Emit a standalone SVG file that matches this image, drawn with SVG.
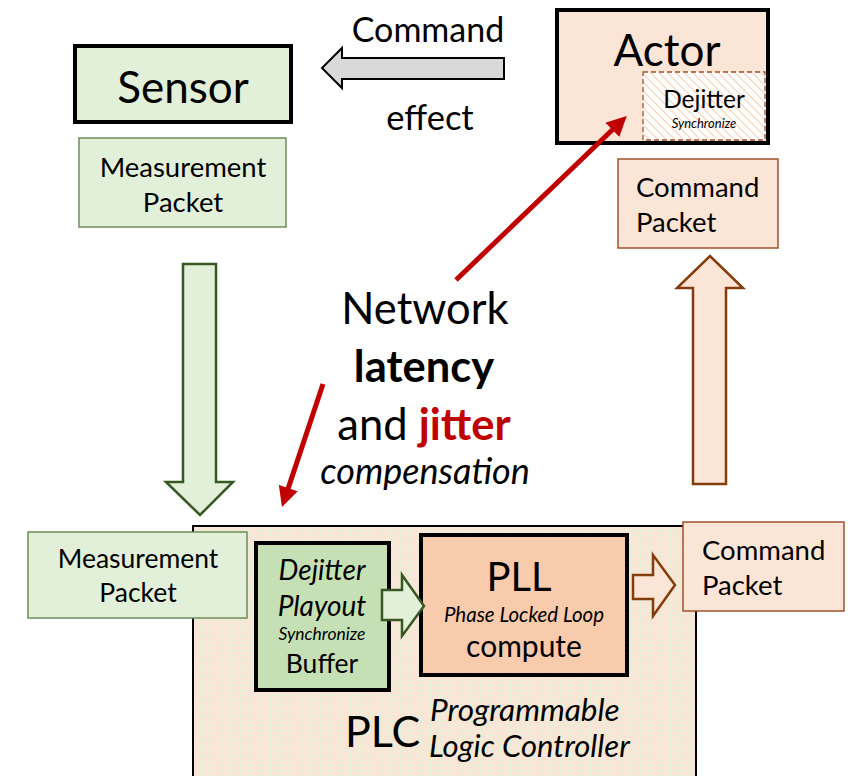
<svg xmlns="http://www.w3.org/2000/svg" width="854" height="776" viewBox="0 0 854 776">
<defs>
<style>
text{font-family:Lato,"Open Sans","Liberation Sans",sans-serif;fill:#000}
.c{text-anchor:middle}
.i{font-style:italic}
.b{font-weight:bold}
.g{fill:#E2F0D9}
.o{fill:#FBE5D6}
.gs{stroke:#6E8F58;stroke-width:1.5}
.os{stroke:#A0522D;stroke-width:1.5}
.thick{stroke:#000;stroke-width:4}
.red{stroke:#C00000;stroke-width:5;fill:none}
</style>
<pattern id="grid" width="5" height="5" patternUnits="userSpaceOnUse">
<rect width="5" height="5" fill="#FBE5D6"/>
<path d="M0 0.5H5M0.5 0V5" stroke="#E6EDD6" stroke-width="0.8"/>
</pattern>
<pattern id="hatch" width="6" height="6" patternUnits="userSpaceOnUse" patternTransform="rotate(-45)">
<rect width="6" height="6" fill="#fff"/>
<line x1="0" y1="0" x2="0" y2="6" stroke="#F4B183" stroke-width="1.3"/>
</pattern>
<marker id="ah" viewBox="0 0 10 10" refX="6" refY="5" markerWidth="4" markerHeight="4" orient="auto" markerUnits="strokeWidth">
<path d="M0 0L10 5L0 10z" fill="#C00000"/>
</marker>
</defs>

<g id="plc">
<rect x="193" y="526" width="503" height="260" fill="url(#grid)" stroke="#000" stroke-width="2"/>
<text x="345" y="747" font-size="43">PLC</text>
<text x="430" y="721" font-size="31.5" class="i">Programmable</text>
<text x="429" y="757" font-size="31" class="i">Logic Controller</text>
</g>

<g id="sensor">
<rect x="75" y="46" width="216" height="76" class="g thick"/>
<text x="183" y="103" font-size="44" class="c">Sensor</text>
</g>

<g id="measurement-top">
<rect x="79" y="138" width="207" height="89" class="g gs"/>
<text x="183" y="177" font-size="27.5" class="c">Measurement</text>
<text x="183" y="212" font-size="27.5" class="c">Packet</text>
</g>

<g id="actor">
<rect x="557" y="10" width="211" height="133" class="o thick"/>
<text x="667" y="66" font-size="44" class="c">Actor</text>
</g>

<g id="dejitter-actor">
<rect x="643" y="72" width="122" height="68" fill="url(#hatch)" stroke="#A0522D" stroke-width="1.3" stroke-dasharray="5 3"/>
<text x="704" y="108" font-size="24.5" class="c">Dejitter</text>
<text x="704" y="128" font-size="13" class="c i">Synchronize</text>
</g>

<g id="command-top">
<rect x="618" y="159" width="160" height="89" class="o os"/>
<text x="636" y="197" font-size="27.5">Command</text>
<text x="636" y="232" font-size="27.5">Packet</text>
</g>

<g id="measurement-bottom">
<rect x="28" y="532" width="219" height="86" class="g gs"/>
<text x="138" y="568" font-size="26.5" class="c">Measurement</text>
<text x="138" y="602" font-size="26.5" class="c">Packet</text>
</g>

<g id="buffer">
<rect x="256" y="543" width="133" height="147" fill="#C5E0B4" class="thick"/>
<text x="322" y="580" font-size="28" class="c i">Dejitter</text>
<text x="322" y="616" font-size="28" class="c i">Playout</text>
<text x="322" y="640" font-size="17.5" class="c i">Synchronize</text>
<text x="322" y="673" font-size="26.5" class="c">Buffer</text>
</g>

<g id="pll">
<rect x="421" y="535" width="206" height="140" fill="#F8CBAD" class="thick"/>
<text x="519" y="591" font-size="40" class="c">PLL</text>
<text x="524" y="622" font-size="20.5" class="c i">Phase Locked Loop</text>
<text x="524" y="657" font-size="30" class="c">compute</text>
</g>

<g id="command-bottom">
<rect x="683" y="522" width="161" height="89" class="o os"/>
<text x="702" y="560" font-size="27.5">Command</text>
<text x="702" y="595" font-size="27.5">Packet</text>
</g>

<g id="labels">
<text x="428" y="42" font-size="34" class="c">Command</text>
<text x="430" y="130" font-size="34.5" class="c">effect</text>
<text x="425" y="324" font-size="43.5" class="c">Network</text>
<text x="424" y="382" font-size="43.5" class="c b">latency</text>
<text x="424" y="440" font-size="43.5" class="c">and <tspan class="b" fill="#C00000" style="fill:#C00000">jitter</tspan></text>
<text x="425" y="484" font-size="36" class="c i">compensation</text>
</g>

<g id="connectors">
<path d="M504 58V79H342V88L322 68L342 48V58Z" fill="#D9D9D9" stroke="#000" stroke-width="2"/>
<path d="M183 264H216V482H233L200 515L166 482H183Z" fill="#E2F0D9" stroke="#385723" stroke-width="2.5"/>
<path d="M693 484V288H677L710 256L743 288H726V484Z" fill="#FBE5D6" stroke="#843C0C" stroke-width="2.5"/>
<path d="M382 590H402V575L424 606L402 636V620H382Z" fill="#E2F0D9" stroke="#385723" stroke-width="2.5"/>
<path d="M633 575H653V555L675 585L653 616V599H633Z" fill="#FBE5D6" stroke="#843C0C" stroke-width="2.5"/>
<line x1="456" y1="280" x2="621" y2="121.5" class="red" marker-end="url(#ah)"/>
<line x1="323" y1="384" x2="284.5" y2="499.4" class="red" marker-end="url(#ah)"/>
</g>
</svg>
